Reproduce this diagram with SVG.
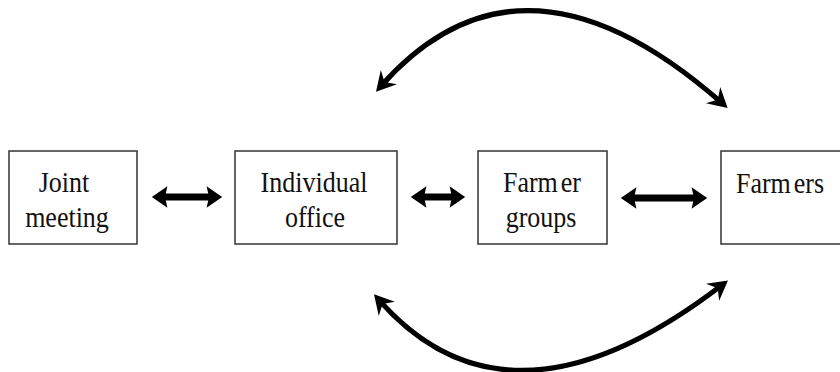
<svg xmlns="http://www.w3.org/2000/svg" width="840" height="372" viewBox="0 0 840 372">
  <style>
    .box { fill: #ffffff; stroke: #333333; stroke-width: 1.5; }
    .lbl { font-family: 'Liberation Serif', 'DejaVu Serif', serif; font-size: 26px; fill: #111111; text-anchor: middle; }
    .dbl { stroke: #000000; stroke-width: 7; fill: none; marker-start: url(#head); marker-end: url(#head); }
    .arc { stroke: #000000; stroke-width: 5; fill: none; marker-start: url(#barb); marker-end: url(#barb); }
  </style>
  <defs>
    <marker id="head" markerUnits="userSpaceOnUse" markerWidth="20" markerHeight="24" viewBox="-3 -10 16 20" refX="0" refY="0" orient="auto-start-reverse">
      <path d="M-2,-9 L11,0 L-2,9 L0,0 z" fill="#000000"/>
    </marker>
    <marker id="barb" markerUnits="userSpaceOnUse" markerWidth="28" markerHeight="28" viewBox="-14 -12 26 24" refX="0" refY="0" orient="auto-start-reverse">
      <path d="M-11,-10 L7,0 L-11,10 L-5,0 z" fill="#000000"/>
    </marker>
  </defs>

  <g id="joint-meeting">
    <rect class="box" x="9" y="151" width="128" height="93"/>
    <text class="lbl" transform="translate(64,192) scale(1,1.15)">Joint</text>
    <text class="lbl" transform="translate(67,227) scale(1,1.15)">meeting</text>
  </g>

  <g id="individual-office">
    <rect class="box" x="235" y="151" width="162" height="93"/>
    <text class="lbl" transform="translate(314,192) scale(1,1.15)">Individual</text>
    <text class="lbl" transform="translate(315,227) scale(1,1.15)">office</text>
  </g>

  <g id="farmer-groups">
    <rect class="box" x="478" y="151" width="129" height="93"/>
    <text class="lbl" transform="translate(542,192) scale(1,1.15)">Farm<tspan dx="3">er</tspan></text>
    <text class="lbl" transform="translate(541,227) scale(1,1.15)">groups</text>
  </g>

  <g id="farmers">
    <rect class="box" x="721" y="151" width="130" height="93"/>
    <text class="lbl" transform="translate(780,193) scale(1,1.15)">Farm<tspan dx="3">ers</tspan></text>
  </g>

  <g id="connectors">
    <line class="dbl" x1="165" y1="197" x2="209" y2="197"/>
    <line class="dbl" x1="424" y1="197" x2="452" y2="197"/>
    <line class="dbl" x1="634" y1="198" x2="694" y2="198"/>
    <path class="arc" d="M381,86 Q522,-73 722,103"/>
    <path class="arc" d="M379,300 Q509.5,448 722,285"/>
  </g>
</svg>
